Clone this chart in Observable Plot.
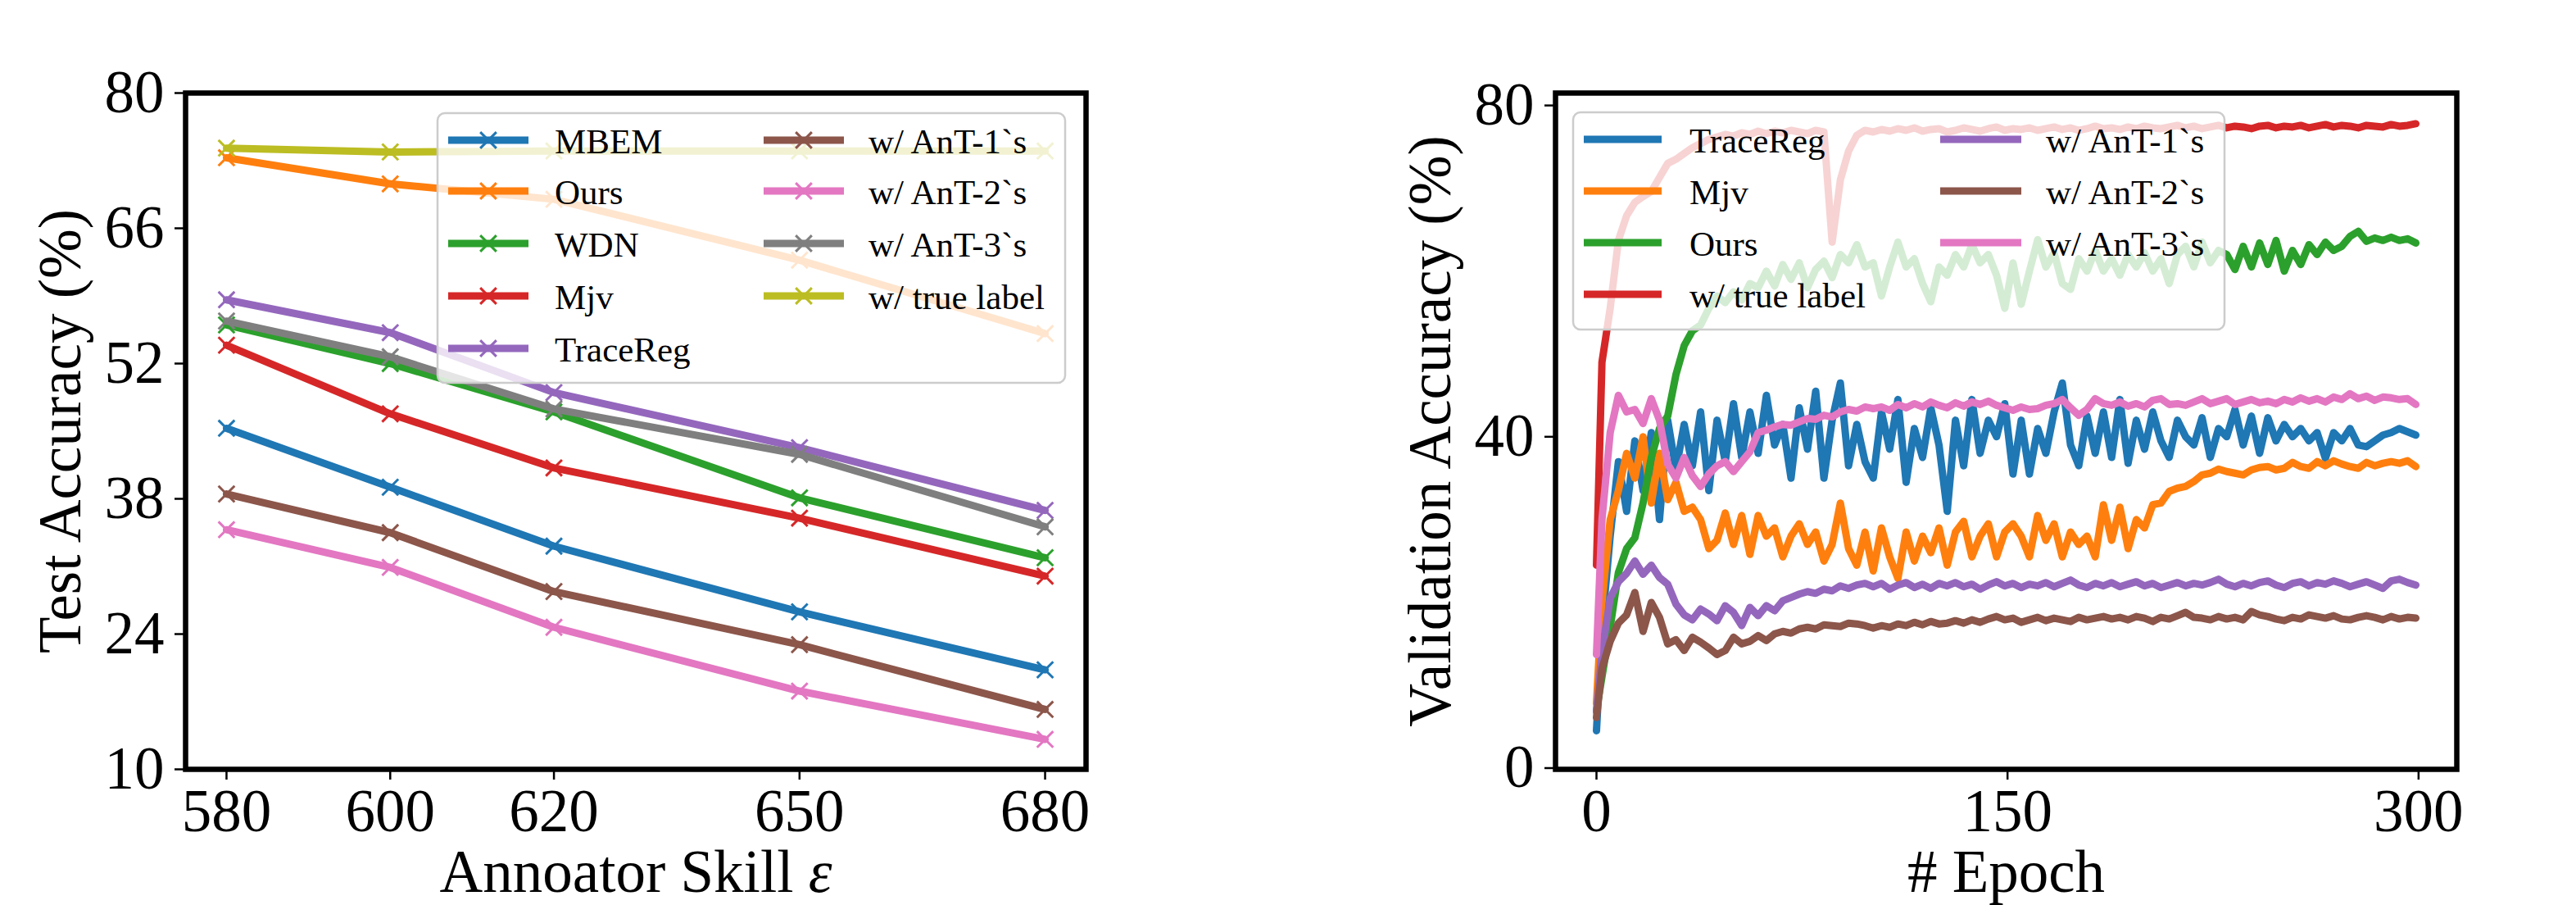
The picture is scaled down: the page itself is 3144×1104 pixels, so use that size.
<!DOCTYPE html>
<html>
<head>
<meta charset="utf-8">
<script src="https://cdn.jsdelivr.net/npm/d3@7"></script>
<script src="https://cdn.jsdelivr.net/npm/@observablehq/plot@0.6"></script>
<style>
  html, body { margin: 0; padding: 0; background: #fff; }
  #wrap { position: relative; width: 3144px; height: 1104px; overflow: hidden; background: #fff; }
  #left, #right { position: absolute; top: 0; }
  #left { left: 0; }
  #right { left: 1572px; }
  svg { display: block; }
</style>
</head>
<body>
<div id="wrap"><div id="left"></div><div id="right"></div></div>
<script>
// ---------------- LEFT PANEL DATA ----------------
const skills = [580, 600, 620, 650, 680];
const leftYTicks = [10, 24, 38, 52, 66, 80];
const leftNames = ["MBEM", "Ours", "WDN", "Mjv", "TraceReg", "w/ AnT-1`s", "w/ AnT-2`s", "w/ AnT-3`s", "w/ true label"];
const leftColors = ["#1f77b4", "#ff7f0e", "#2ca02c", "#d62728", "#9467bd", "#8c564b", "#e377c2", "#7f7f7f", "#bcbd22"];
const accMBEM     = [45.3, 39.2, 33.1, 26.3, 20.3];
const accOurs     = [73.3, 70.6, 69.0, 62.7, 55.1];
const accWDN      = [56.0, 52.0, 47.0, 38.1, 31.9];
const accMjv      = [53.9, 46.8, 41.2, 36.0, 30.0];
const accTraceReg = [58.6, 55.2, 49.0, 43.3, 36.8];
const accAnT1     = [38.5, 34.5, 28.4, 22.9, 16.2];
const accAnT2     = [34.8, 30.9, 24.7, 18.1, 13.1];
const accAnT3     = [56.4, 52.7, 47.3, 42.6, 35.1];
const accTrue     = [74.3, 73.9, 74.0, 74.0, 74.0];
const leftValues = [accMBEM, accOurs, accWDN, accMjv, accTraceReg, accAnT1, accAnT2, accAnT3, accTrue];

// ---------------- RIGHT PANEL DATA ----------------
const epochs = [0].concat(d3.range(2, 300, 3)); // 0, 2, 5, ..., 299
const xTicksRight = [0, 150, 300];
const yTicksRight = [0, 40, 80];
const rightNames = ["TraceReg", "Mjv", "Ours", "w/ true label", "w/ AnT-1`s", "w/ AnT-2`s", "w/ AnT-3`s"];
const rightColors = ["#1f77b4", "#ff7f0e", "#2ca02c", "#d62728", "#9467bd", "#8c564b", "#e377c2"];

const valTraceReg = [
  4.5, 17, 28, 37, 31, 39.5, 33.5, 40.5, 30, 42,
  36, 41.5, 36.5, 43, 33.5, 42, 37, 44, 37.5, 43,
  38, 45, 39, 41.5, 35, 43.5, 38.5, 45.5, 35, 42,
  46.5, 36.5, 41.5, 37,
  35, 43, 38.5, 44.5, 34.5, 41, 37.5, 43.5, 39, 31,
  42, 36.5, 44.5, 38, 42, 40, 44, 35.5, 42, 35.5,
  41, 38, 43, 46.5, 39, 36.5, 42.5, 38, 43, 37.5,
  44.5, 36.8, 42, 38.5, 43, 39.5, 37.5, 42, 40, 39,
  42.3, 37.5, 41, 40, 43.3, 39, 42.5, 38, 42.3, 39.5,
  41.5, 40, 41, 39.5, 40.5, 37.4, 40.5, 39.5, 41, 39,
  38.8, 39.5, 40.2, 40.5, 41, 40.6, 40.2
];
const valMjv = [
  7.8, 20, 30, 33.5, 38, 35, 40, 32, 38, 32.4,
  34.5, 31, 31.5, 30, 26.5, 27.5, 30.8, 27, 30.5, 25.8,
  30.5, 28, 29, 25.5, 28, 29.5, 27, 28.5, 25, 27,
  32, 26.5, 24.5, 28.5,
  23.8, 29, 25.5, 22.9, 28.5, 25, 28, 26, 29, 24.5,
  28.5, 29.8, 25.5, 28, 29.5, 25.5, 28.5, 29.5, 28, 25.5,
  30.5, 27.5, 29.5, 25.5, 28.5, 27, 28, 25.5, 31.8, 27.5,
  31.5, 26.5, 30, 29, 31.8, 32, 33.4, 33.8, 34, 34.6,
  35.4, 35.6, 36.1, 35.8, 35.6, 35.4, 36, 36.3, 36.4, 36,
  36.2, 36.9, 36.4, 36.2, 37, 36.5, 37.1, 36.7, 36.4, 36.2,
  36.9, 36.5, 36.8, 37, 36.8, 37.1, 36.4
];
const valOurs = [
  7, 11, 17, 23.6, 26.5, 27.8, 32, 37.5, 41, 42.5,
  47.5, 51, 52.8, 53.5, 55.5, 57, 56.2, 57.5, 56.5, 58.5,
  58, 60, 58.2, 60.8, 59, 61, 58, 60.2, 61.2, 59.2,
  62, 61, 63.2, 60.5,
  61, 57, 60.5, 63.5, 60.5, 61.5, 58.5, 56.3, 60.5, 59.5,
  62, 60.5, 63.2, 61, 62, 59.5, 55.5, 61, 56, 60,
  63.8, 60.5, 62.2, 58.5, 57.8, 61.5, 60, 62.5, 60, 61.5,
  59.5, 62, 60.5, 62.2, 60, 61.5, 58.5, 62, 63, 60.5,
  63.5, 61, 62.5, 62, 60.2, 63, 60.5, 63.4, 60.8, 63.7,
  60, 62.5, 60.8, 63.2, 62, 63.5, 62.5, 63, 64.2, 64.8,
  63.6, 64, 63.7, 64.1, 63.7, 63.9, 63.4
];
const valTrue = [
  24.5, 49, 55.5, 63.7, 66.7, 68.3, 69, 69.6, 71.3, 73,
  73.5, 74.2, 74.9, 75.4, 75.9, 76.2, 76.5, 76.3, 76.7, 76.5,
  76.9, 76.6, 76.9, 76.7, 77, 76.8, 76.6, 77, 76.8, 63.5,
  71, 74.5, 76.4, 77,
  76.8, 77.1, 76.9, 77.2, 77.0, 77.3, 76.9, 77.1, 77.2, 76.8,
  77.0, 77.3, 77.1, 76.9, 77.2, 77.4, 77.0, 77.2, 77.1, 77.3,
  77.0, 77.2, 77.4, 77.1, 77.3, 77.0, 77.2, 77.5, 77.2, 77.3,
  77.1, 77.4, 77.2, 77.5, 77.3, 77.2, 77.4, 77.6, 77.3, 77.5,
  77.2, 77.4, 77.6, 77.3, 77.5, 77.4, 77.2, 77.5, 77.6, 77.3,
  77.5, 77.4, 77.6, 77.3, 77.5, 77.7, 77.4, 77.6, 77.5, 77.3,
  77.6, 77.5, 77.4, 77.7, 77.5, 77.6, 77.8
];
const valAnT1 = [
  6.8, 14, 20.5, 22.5, 23.5, 25, 23.4, 24.5, 23, 22.2,
  19.8, 18.5, 17.9, 19.2, 18.6, 17.8, 19.6, 18.8, 17.2, 19.4,
  18.4, 19.6, 19, 20.2, 20.6, 21, 21.3, 21.1, 21.6, 21.4,
  22, 21.7, 22.1, 22.3,
  21.9, 22.3, 21.6, 22.1, 22.4, 21.8, 22.2, 21.7, 22.3, 22.0,
  22.4, 21.9, 22.2, 21.6, 22.1, 22.5, 22.0, 22.3, 21.8, 22.2,
  22.0, 22.4, 21.9, 22.3, 22.7, 22.1, 21.8, 22.3, 22.0, 22.4,
  21.9, 22.2, 22.5, 22.0, 22.3, 21.8, 22.1, 22.4, 22.0, 22.3,
  22.1, 22.4, 22.8, 22.2, 21.9, 22.3, 22.0, 22.4, 22.6, 22.1,
  21.8, 22.3, 22.5, 22.0, 22.4, 22.2, 22.6, 22.3, 21.9, 22.2,
  22.5, 22.1, 21.7, 22.6, 22.8, 22.4, 22.1
];
const valAnT2 = [
  6.1, 12, 15.3, 17.5, 18.5, 21.2, 16.5, 20, 18.2, 15,
  15.5, 14.2, 15.8, 15.2, 14.5, 13.7, 14.2, 15.8, 15, 15.3,
  16, 15.4, 16.2, 16.5, 16.3, 16.8, 17, 16.8, 17.3, 17.2,
  17.1, 17.5, 17.4, 17.2,
  16.9, 17.2, 17.0, 17.4, 17.2, 17.6, 17.3, 17.7, 17.4, 17.5,
  17.8, 17.5, 17.9, 17.6, 18.0, 18.3, 17.9, 18.1, 17.6, 17.9,
  18.2, 17.8, 18.1, 17.9, 17.7, 18.2, 17.9, 18.1, 18.3, 18.0,
  18.2, 17.9, 18.3, 18.1, 17.7, 18.2, 18.0, 18.4, 18.8, 18.2,
  18.1, 17.9, 18.3, 18.0, 18.2, 17.9, 18.9, 18.5, 18.3, 18.0,
  17.8, 18.2, 18.0, 18.5, 18.3, 18.1, 18.4, 18.0, 17.9, 18.2,
  18.4, 18.2, 17.9, 18.3, 18.0, 18.2, 18.1
];
const valAnT3 = [
  13.7, 30, 40.5, 45, 43, 43.3, 41.6, 44.6, 42, 36.7,
  35, 37.5, 35.3, 34, 35.5, 36.5, 37, 35.8, 37, 38.2,
  40.5, 40.8, 41.2, 41.5, 41.4, 41.8, 42.2, 42.1, 42.6, 42.4,
  43, 43.3, 43.1, 43.6,
  43.4, 43.6, 43.2, 43.9, 43.5, 44, 43.6, 44.2, 43.8, 43.5,
  44.1, 43.7, 44.2, 43.9, 44.3, 43.8, 43.5, 43.2, 43.6, 43.3,
  43.4, 43.8, 44, 44.5, 43.5, 42.6, 43.3, 44.6, 44, 43.8,
  44.2, 43.7, 44, 43.6, 44.4, 44.6, 43.9, 44, 43.8, 44.2,
  44.6, 44, 44.3, 44.6, 43.9, 44.2, 44.5, 44.1, 44.3, 44,
  44.5, 44.2, 44.7, 44.3, 44.6, 44.2, 44.8, 44.5, 45.2, 44.6,
  44.9, 44.4, 44.8, 44.7, 44.5, 44.6, 43.9
];
const rightValues = [valTraceReg, valMjv, valOurs, valTrue, valAnT1, valAnT2, valAnT3];

// ---------------- STYLE ----------------
const FONT = "Liberation Serif, Times New Roman, serif";
const BIG = 73;
const LEG = 43;
const LW = 9;

function legend(svg, box, cols, names, colors, withMarker) {
  const g = d3.select(svg).append("g");
  g.append("rect")
    .attr("x", box.x).attr("y", box.y).attr("width", box.w).attr("height", box.h)
    .attr("rx", 9).attr("ry", 9)
    .attr("fill", "#ffffff").attr("fill-opacity", 0.8)
    .attr("stroke", "#cccccc").attr("stroke-width", 2.5);
  const times = d3.symbol(d3.symbolTimes, Math.PI * 81)();
  names.forEach((name, i) => {
    const c = cols[i < box.perCol ? 0 : 1];
    const y = box.rows[i % box.perCol];
    g.append("line")
      .attr("x1", c.x1).attr("x2", c.x2).attr("y1", y).attr("y2", y)
      .attr("stroke", colors[i]).attr("stroke-width", LW);
    if (withMarker) {
      g.append("path").attr("d", times)
        .attr("transform", `translate(${(c.x1 + c.x2) / 2},${y})`)
        .attr("fill", "none").attr("stroke", colors[i]).attr("stroke-width", 3);
    }
    g.append("text")
      .attr("x", c.tx).attr("y", y + 16)
      .attr("text-anchor", "start")
      .attr("font-family", FONT).attr("font-size", LEG).attr("fill", "#000")
      .text(name);
  });
}

// ---------------- LEFT CHART ----------------
const leftMarks = [];
leftNames.forEach((name, i) => {
  const data = skills.map((s, j) => ({skill: s, acc: leftValues[i][j]}));
  leftMarks.push(Plot.line(data, {x: "skill", y: "acc", stroke: leftColors[i], strokeWidth: LW}));
  leftMarks.push(Plot.dot(data, {x: "skill", y: "acc", stroke: leftColors[i], symbol: "times", r: 9, strokeWidth: 3}));
});

const leftChart = Plot.plot({
  width: 1572, height: 1104,
  marginLeft: 226, marginRight: 247, marginTop: 113, marginBottom: 166,
  style: {fontFamily: FONT, fontSize: BIG + "px", color: "#000", background: "#fff"},
  x: {domain: [575, 685]},
  y: {domain: [10, 80]},
  marks: [
    Plot.axisX({ticks: skills, tickFormat: d => String(d), tickSize: 13, tickPadding: 11, strokeWidth: 2.5, fontSize: BIG, label: null}),
    Plot.axisY({ticks: leftYTicks, tickFormat: d => String(d), tickSize: 13, tickPadding: 13, strokeWidth: 2.5, fontSize: BIG, label: null}),
    ...leftMarks,
    Plot.frame({stroke: "#000", strokeWidth: 6.5}),
    Plot.text(["Annoator Skill ε"], {frameAnchor: "bottom", dy: 126, fontSize: BIG, lineAnchor: "middle", textAnchor: "middle", fill: "#000"}),
    Plot.text(["Test Accuracy (%)"], {frameAnchor: "left", dx: -152, rotate: -90, fontSize: BIG, lineAnchor: "middle", textAnchor: "middle", fill: "#000"})
  ]
});
document.getElementById("left").appendChild(leftChart);

legend(leftChart,
  {x: 534, y: 138, w: 766, h: 329, perCol: 5, rows: [171, 233, 297, 361, 425]},
  [{x1: 547, x2: 645, tx: 677}, {x1: 932, x2: 1030, tx: 1060}],
  leftNames, leftColors, true);

// italic epsilon
d3.select(leftChart).selectAll("text").each(function() {
  if (this.textContent === "Annoator Skill ε") {
    const t = d3.select(this);
    t.text("Annoator Skill ");
    t.append("tspan").attr("font-style", "italic").text("ε");
  }
});

// ---------------- RIGHT CHART ----------------
const rightMarks = rightNames.map((name, i) => {
  const data = epochs.map((e, j) => ({epoch: e, acc: rightValues[i][j]}));
  return Plot.line(data, {x: "epoch", y: "acc", stroke: rightColors[i], strokeWidth: LW});
});

const rightChart = Plot.plot({
  width: 1572, height: 1104,
  marginLeft: 326, marginRight: 146, marginTop: 113, marginBottom: 166,
  style: {fontFamily: FONT, fontSize: BIG + "px", color: "#000", background: "#fff"},
  x: {domain: [-14.95, 313.95]},
  y: {domain: [-0.15, 81.5]},
  marks: [
    Plot.axisX({ticks: xTicksRight, tickFormat: d => String(d), tickSize: 13, tickPadding: 11, strokeWidth: 2.5, fontSize: BIG, label: null}),
    Plot.axisY({ticks: yTicksRight, tickFormat: d => String(d), tickSize: 13, tickPadding: 13, strokeWidth: 2.5, fontSize: BIG, label: null}),
    ...rightMarks,
    Plot.frame({stroke: "#000", strokeWidth: 6.5}),
    Plot.text(["# Epoch"], {frameAnchor: "bottom", dy: 126, fontSize: BIG, lineAnchor: "middle", textAnchor: "middle", fill: "#000"}),
    Plot.text(["Validation Accuracy (%)"], {frameAnchor: "left", dx: -152, rotate: -90, fontSize: BIG, lineAnchor: "middle", textAnchor: "middle", fill: "#000"})
  ]
});
document.getElementById("right").appendChild(rightChart);

legend(rightChart,
  {x: 348, y: 137, w: 795, h: 265, perCol: 4, rows: [170, 233, 296, 359]},
  [{x1: 361, x2: 456, tx: 490}, {x1: 796, x2: 895, tx: 925}],
  rightNames, rightColors, false);
</script>
</body>
</html>
